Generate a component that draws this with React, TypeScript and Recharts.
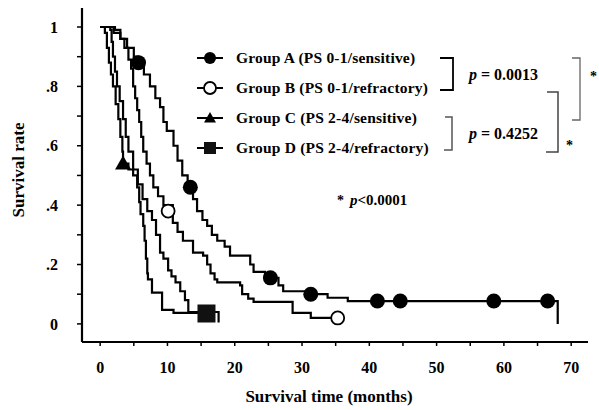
import React from 'react';
import { ComposedChart, Line, Scatter, XAxis, YAxis, Customized } from 'recharts';

const FONT = '"Liberation Serif", "Times New Roman", serif';

// Kaplan-Meier steps (months, survival rate)
const timesA = [0, 2.0, 3.0, 4.0, 5.0, 5.7, 6.5, 7.4, 8.2, 8.9, 9.4, 9.9, 10.9, 11.5, 12.2, 13.0, 13.8, 14.4, 15.2, 15.9, 16.6, 17.4, 18.5, 19.3, 22.3, 22.8, 24.5, 26.5, 27.2, 31.0, 33.8, 36.8, 68.0];
const survA = [1, 0.98, 0.96, 0.93, 0.9, 0.88, 0.84, 0.8, 0.76, 0.73, 0.68, 0.65, 0.6, 0.55, 0.5, 0.46, 0.42, 0.38, 0.35, 0.33, 0.3, 0.28, 0.26, 0.23, 0.2, 0.175, 0.155, 0.13, 0.11, 0.1, 0.088, 0.077, 0];
const markTimesA = [5.7, 13.4, 25.3, 31.3, 41.2, 44.6, 58.5, 66.5];
const markSurvA = [0.88, 0.46, 0.155, 0.1, 0.077, 0.077, 0.077, 0.077];

const timesB = [0, 2.2, 3.0, 3.6, 4.2, 4.6, 4.9, 5.2, 5.5, 5.8, 6.1, 6.4, 6.9, 7.4, 7.9, 8.6, 9.4, 10.8, 11.5, 12.3, 13.8, 15.3, 15.9, 16.4, 17.0, 17.4, 20.8, 21.1, 22.0, 22.8, 28.6, 31.3, 35.3];
const survB = [1, 0.99, 0.96, 0.93, 0.89, 0.86, 0.8, 0.76, 0.72, 0.68, 0.63, 0.58, 0.54, 0.5, 0.46, 0.43, 0.4, 0.34, 0.31, 0.28, 0.24, 0.23, 0.2, 0.17, 0.15, 0.14, 0.13, 0.1, 0.085, 0.074, 0.037, 0.02, 0.02];
const markTimesB = [10.1, 35.3];
const markSurvB = [0.38, 0.02];

const timesC = [0, 0.7, 1.0, 1.3, 1.6, 1.9, 2.3, 2.7, 3.0, 3.3, 3.4, 4.2, 4.9, 5.5, 5.8, 6.0, 6.4, 6.6, 6.8, 7.0, 7.1, 7.7, 9.2, 10.9, 15.8];
const survC = [1, 0.98, 0.93, 0.88, 0.84, 0.8, 0.74, 0.69, 0.63, 0.58, 0.54, 0.52, 0.5, 0.46, 0.41, 0.37, 0.33, 0.28, 0.22, 0.17, 0.15, 0.105, 0.047, 0.037, 0.037];
const markTimesC = [3.4];
const markSurvC = [0.54];

const timesD = [0, 1.5, 1.7, 1.9, 2.2, 2.5, 2.9, 3.4, 3.8, 4.2, 4.9, 5.6, 6.3, 7.0, 7.7, 8.3, 8.9, 9.4, 10.1, 10.6, 11.2, 11.9, 12.6, 13.1, 17.6];
const survD = [1, 0.99, 0.95, 0.9, 0.85, 0.8, 0.75, 0.69, 0.63, 0.58, 0.52, 0.47, 0.42, 0.38, 0.35, 0.3, 0.24, 0.22, 0.18, 0.16, 0.14, 0.11, 0.08, 0.04, 0.005];
const markTimesD = [15.8];
const markSurvD = [0.035];

const xTicks = [0, 5, 10, 15, 20, 25, 30, 35, 40, 45, 50, 55, 60, 65, 70];
const xTickLabels = ['0', '', '10', '', '20', '', '30', '', '40', '', '50', '', '60', '', '70'];
const yTicks = [0, 0.1, 0.2, 0.3, 0.4, 0.5, 0.6, 0.7, 0.8, 0.9, 1];
const yTickLabels = ['0', '', '.2', '', '.4', '', '.6', '', '.8', '', '1'];

const legendLabels = [
  'Group A (PS 0-1/sensitive)',
  'Group B (PS 0-1/refractory)',
  'Group C (PS 2-4/sensitive)',
  'Group D (PS 2-4/refractory)',
];

const toPts = (t: number[], s: number[]) => t.map((x, i) => ({ t: x, s: s[i] }));

const curveA = toPts(timesA, survA);
const curveB = toPts(timesB, survB);
const curveC = toPts(timesC, survC);
const curveD = toPts(timesD, survD);

function FilledCircle({ cx, cy, r = 7.5 }: any) {
  return <circle cx={cx} cy={cy} r={r} fill="#000" />;
}
function OpenCircle({ cx, cy, r = 6.5 }: any) {
  return <circle cx={cx} cy={cy} r={r} fill="#fff" stroke="#000" strokeWidth={1.8} />;
}
function Triangle({ cx, cy, r = 8 }: any) {
  return <polygon points={`${cx - r},${cy + r * 0.75} ${cx},${cy - r} ${cx + r},${cy + r * 0.75}`} fill="#000" />;
}
function Square({ cx, cy, r = 9 }: any) {
  return <rect x={cx - r} y={cy - r} width={r * 2} height={r * 2} fill="#111" />;
}

const legendShapes = [FilledCircle, OpenCircle, Triangle, Square];

function Annotations() {
  return (
    <g fontFamily={FONT} fontWeight="bold" fill="#000">
      {legendLabels.map((label, i) => {
        const y = 58 + i * 30;
        const Shape = legendShapes[i];
        return (
          <g key={label}>
            <line x1={197} x2={223} y1={y} y2={y} stroke="#000" strokeWidth={2} />
            <Shape cx={210} cy={y} r={6} />
            <text x={236} y={y + 5} fontSize={15.5} letterSpacing={0.2}>{label}</text>
          </g>
        );
      })}
      <polyline points="440,58 453,58 453,90 440,90" fill="none" stroke="#000" strokeWidth={1.8} />
      <text x={469} y={80} fontSize={16}>
        <tspan fontStyle="italic">p</tspan> = 0.0013
      </text>
      <polyline points="445,117 452,117 452,150 444,150" fill="none" stroke="#555" strokeWidth={1.5} />
      <text x={469} y={139} fontSize={16}>
        <tspan fontStyle="italic">p</tspan> = 0.4252
      </text>
      <polyline points="547,92 558,92 558,152 546,152" fill="none" stroke="#444" strokeWidth={1.5} />
      <text x={566} y={150} fontSize={14}>*</text>
      <polyline points="572,58 580,58 580,120 572,120" fill="none" stroke="#666" strokeWidth={1.3} />
      <text x={590} y={81} fontSize={14}>*</text>
      <text x={337} y={205} fontSize={14}>*</text>
      <text x={350} y={205} fontSize={15}>
        <tspan fontStyle="italic">p</tspan>&lt;0.0001
      </text>
      <text x={24} y={170} fontSize={17} textAnchor="middle" transform="rotate(-90 24 170)">Survival rate</text>
      <text x={329} y={402} fontSize={17} textAnchor="middle">Survival time (months)</text>
    </g>
  );
}

const tickStyle = { fill: '#000', fontSize: 16, fontWeight: 'bold', fontFamily: FONT };

export default function App() {
  return (
    <div style={{ position: 'absolute', left: 0, top: 0, background: '#fff' }}>
      <ComposedChart width={599} height={410} margin={{ top: 8, right: 11, bottom: 0, left: 0 }}>
        <XAxis
          type="number"
          dataKey="t"
          domain={[-2.7, 72.5]}
          ticks={xTicks}
          allowDataOverflow
          tickFormatter={(v: number) => xTickLabels[xTicks.indexOf(v)] ?? ''}
          height={68}
          tickSize={4}
          tickMargin={16}
          axisLine={{ stroke: '#000', strokeWidth: 2.2 }}
          tickLine={{ stroke: '#000', strokeWidth: 1.5 }}
          tick={tickStyle}
        />
        <YAxis
          type="number"
          dataKey="s"
          domain={[-0.061, 1.064]}
          ticks={yTicks}
          allowDataOverflow
          tickFormatter={(v: number) => yTickLabels[yTicks.indexOf(v)] ?? ''}
          width={82}
          tickSize={5}
          tickMargin={19}
          axisLine={{ stroke: '#000', strokeWidth: 2.2 }}
          tickLine={{ stroke: '#000', strokeWidth: 1.5 }}
          tick={tickStyle}
        />
        <Line data={curveA} dataKey="s" type="stepAfter" stroke="#000" strokeWidth={2.2} dot={false} isAnimationActive={false} />
        <Line data={curveB} dataKey="s" type="stepAfter" stroke="#000" strokeWidth={2.2} dot={false} isAnimationActive={false} />
        <Line data={curveC} dataKey="s" type="stepAfter" stroke="#000" strokeWidth={2.2} dot={false} isAnimationActive={false} />
        <Line data={curveD} dataKey="s" type="stepAfter" stroke="#000" strokeWidth={2.2} dot={false} isAnimationActive={false} />
        <Scatter data={toPts(markTimesA, markSurvA)} dataKey="s" shape={<FilledCircle />} isAnimationActive={false} />
        <Scatter data={toPts(markTimesB, markSurvB)} dataKey="s" shape={<OpenCircle />} isAnimationActive={false} />
        <Scatter data={toPts(markTimesC, markSurvC)} dataKey="s" shape={<Triangle />} isAnimationActive={false} />
        <Scatter data={toPts(markTimesD, markSurvD)} dataKey="s" shape={<Square />} isAnimationActive={false} />
        <Customized component={Annotations} />
      </ComposedChart>
    </div>
  );
}
